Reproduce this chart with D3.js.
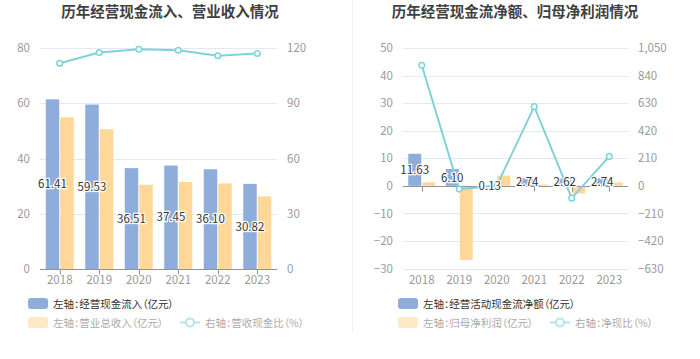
<!DOCTYPE html>
<html>
<head>
<meta charset="utf-8">
<script src="https://cdn.jsdelivr.net/npm/d3@7"></script>
<style>
  body { margin: 0; background: #fff; }
  svg { display: block; font-family: "Noto Sans CJK SC", "Noto Sans", sans-serif; }
  .legend text { font-feature-settings: "palt"; }
</style>
</head>
<body>
<svg id="chart" width="700" height="359"></svg>
<script>
const years = ["2018", "2019", "2020", "2021", "2022", "2023"];

// left panel
const cashInflow = [61.41, 59.53, 36.51, 37.45, 36.10, 30.82];
const revenue = [54.9, 50.6, 30.5, 31.5, 31.0, 26.3];
const cashRevRatio = [111.7, 117.5, 119.3, 118.8, 115.8, 117.0];
const leftTicksA = [0, 20, 40, 60, 80];
const rightTicksA = [0, 30, 60, 90, 120];

// right panel
const netCashFlow = [11.63, 6.10, 0.13, 2.74, 2.62, 2.74];
const netProfit = [1.27, -26.9, 3.7, 0.45, -2.8, 1.22];
const netCashRatio = [918, -25, 1, 603, -94, 224];
const leftTicksB = [-30, -20, -10, 0, 10, 20, 30, 40, 50];
const rightTicksB = [-630, -420, -210, 0, 210, 420, 630, 840, 1050];

const BLUE = "#8eaddb", ORANGE = "#ffd899", TEAL = "#7fd3d8";
const BLUE_L = "#8eaddb", ORANGE_L = "#ffe8c6", TEAL_L = "#b3e6e9";

const svg = d3.select("#chart");

// faint panel divider
svg.append("line")
  .attr("x1", 352.5).attr("x2", 352.5).attr("y1", 0).attr("y2", 333)
  .attr("stroke", "#f1f1f1");

function drawPanel(cfg) {
  const g = svg.append("g");
  const x = d3.scaleBand().domain(years).range([cfg.x0, cfg.x1]);
  const yL = d3.scaleLinear().domain(cfg.leftDomain).range([cfg.yBottom, cfg.yTop]);
  const yR = d3.scaleLinear().domain(cfg.rightDomain).range([cfg.yBottom, cfg.yTop]);
  const half = cfg.barW + 1;
  const xi = d3.scaleBand().domain(["a", "b"]).range([-half, half]).paddingInner(2 / (2 * half));

  g.append("text")
    .attr("x", cfg.titleX).attr("y", 17)
    .attr("text-anchor", "middle")
    .attr("font-size", 14.5).attr("font-weight", "bold").attr("fill", "#3f3f3f")
    .text(cfg.title);

  // grid
  g.append("g").selectAll("line")
    .data(cfg.leftTicks.filter(t => t !== 0))
    .join("line")
    .attr("x1", cfg.x0).attr("x2", cfg.x1)
    .attr("y1", d => Math.round(yL(d)) + 0.5).attr("y2", d => Math.round(yL(d)) + 0.5)
    .attr("stroke", "#e3e8f3");

  // y axes
  const axL = g.append("g").attr("transform", `translate(${cfg.x0 - 7},0)`)
    .call(d3.axisLeft(yL).tickValues(cfg.leftTicks).tickSize(0).tickFormat(d3.format("")));
  const axR = g.append("g").attr("transform", `translate(${cfg.x1 + 7},0)`)
    .call(d3.axisRight(yR).tickValues(cfg.rightTicks).tickSize(0).tickFormat(d3.format(",")));
  [axL, axR].forEach(a => {
    a.select(".domain").remove();
    a.selectAll("text").attr("fill", "#9a9a9a").attr("font-size", 11.5)
      .attr("font-family", "'Noto Sans CJK SC', sans-serif");
  });

  // bars
  const bars = g.append("g");
  const series = [{ key: "a", vals: cfg.barA, color: BLUE }, { key: "b", vals: cfg.barB, color: ORANGE }];
  series.forEach(s => {
    bars.selectAll(null).data(s.vals).join("rect")
      .attr("x", (d, i) => x(years[i]) + x.bandwidth() / 2 + xi(s.key))
      .attr("width", xi.bandwidth())
      .attr("y", d => Math.min(yL(d), yL(0)))
      .attr("height", d => Math.abs(yL(d) - yL(0)))
      .attr("fill", s.color);
  });

  // x axis
  const zeroY = Math.round(yL(0)) + 0.5;
  g.append("line").attr("x1", cfg.x0).attr("x2", cfg.x1).attr("y1", zeroY).attr("y2", zeroY)
    .attr("stroke", "#8e939c");
  g.append("g").selectAll("line").data(years).join("line")
    .attr("x1", d => Math.round(x(d) + x.bandwidth() / 2) + 0.5)
    .attr("x2", d => Math.round(x(d) + x.bandwidth() / 2) + 0.5)
    .attr("y1", zeroY).attr("y2", zeroY + 5)
    .attr("stroke", "#8e939c");
  g.append("g").selectAll("text").data(years).join("text")
    .attr("x", d => x(d) + x.bandwidth() / 2)
    .attr("y", cfg.yearY)
    .attr("text-anchor", "middle")
    .attr("font-size", 11.5).attr("fill", "#9a9a9a")
    .text(d => d);

  // line
  const line = d3.line()
    .x((d, i) => x(years[i]) + x.bandwidth() / 2)
    .y(d => yR(d));
  g.append("path").datum(cfg.lineVals)
    .attr("d", line).attr("fill", "none")
    .attr("stroke", TEAL).attr("stroke-width", 2);
  g.append("g").selectAll("circle").data(cfg.lineVals).join("circle")
    .attr("cx", (d, i) => x(years[i]) + x.bandwidth() / 2)
    .attr("cy", d => yR(d))
    .attr("r", 2.8)
    .attr("fill", "#fff").attr("stroke", TEAL).attr("stroke-width", 1.5);

  // labels at the middle of the blue bars
  g.append("g").selectAll("text").data(cfg.barA).join("text")
    .attr("x", (d, i) => x(years[i]) + x.bandwidth() / 2 + xi("a") + xi.bandwidth() / 2)
    .attr("y", d => (yL(d) + yL(0)) / 2)
    .attr("dy", "0.36em")
    .attr("text-anchor", "middle")
    .attr("font-size", 11.5).attr("fill", "#333")
    .attr("stroke", "#fff").attr("stroke-width", 2.5).attr("paint-order", "stroke")
    .text(d => d3.format(".2f")(d));

  // legend
  const lg = g.append("g").attr("class", "legend").attr("font-size", 10.5);
  lg.append("rect").attr("x", cfg.legX).attr("y", 298).attr("width", 20).attr("height", 11)
    .attr("rx", 3).attr("fill", BLUE_L);
  lg.append("text").attr("x", cfg.legX + 25).attr("y", 307.5).attr("fill", "#333").text(cfg.legA);
  lg.append("rect").attr("x", cfg.legX).attr("y", 317).attr("width", 20).attr("height", 11)
    .attr("rx", 3).attr("fill", ORANGE_L);
  lg.append("text").attr("x", cfg.legX + 25).attr("y", 326.5).attr("fill", "#aaa").text(cfg.legB);
  lg.append("line").attr("x1", cfg.legLineX).attr("x2", cfg.legLineX + 20)
    .attr("y1", 322.5).attr("y2", 322.5).attr("stroke", TEAL_L).attr("stroke-width", 2);
  lg.append("circle").attr("cx", cfg.legLineX + 10).attr("cy", 322.5).attr("r", 4)
    .attr("fill", "#fff").attr("stroke", TEAL_L).attr("stroke-width", 2);
  lg.append("text").attr("x", cfg.legLineX + 25).attr("y", 326.5).attr("fill", "#aaa").text(cfg.legC);
}

drawPanel({
  title: "历年经营现金流入、营业收入情况", titleX: 170,
  x0: 40, x1: 277, yTop: 48, yBottom: 269, yearY: 284,
  leftDomain: [0, 80], rightDomain: [0, 120],
  leftTicks: leftTicksA, rightTicks: rightTicksA,
  barA: cashInflow, barB: revenue, lineVals: cashRevRatio, barW: 13,
  legX: 28, legLineX: 180,
  legA: "左轴：经营现金流入（亿元）",
  legB: "左轴：营业总收入（亿元）",
  legC: "右轴：营收现金比（%）"
});

drawPanel({
  title: "历年经营现金流净额、归母净利润情况", titleX: 515,
  x0: 403, x1: 628, yTop: 48, yBottom: 268.5, yearY: 284,
  leftDomain: [-30, 50], rightDomain: [-630, 1050],
  leftTicks: leftTicksB, rightTicks: rightTicksB,
  barA: netCashFlow, barB: netProfit, lineVals: netCashRatio, barW: 12.5,
  legX: 398, legLineX: 550,
  legA: "左轴：经营活动现金流净额（亿元）",
  legB: "左轴：归母净利润（亿元）",
  legC: "右轴：净现比（%）"
});
</script>
</body>
</html>
